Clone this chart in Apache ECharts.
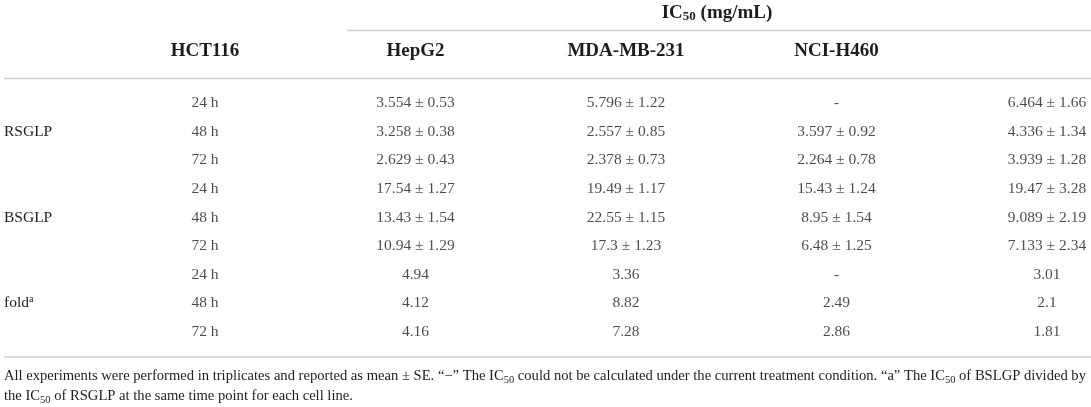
<!DOCTYPE html>
<html>
<head>
<meta charset="utf-8">
<script src="https://cdn.jsdelivr.net/npm/echarts@6/dist/echarts.min.js"></script>
<style>
  html, body { margin: 0; padding: 0; background: #fff; }
  #container { width: 1091px; height: 407px; }
</style>
</head>
<body>
<div id="container"></div>
<script>
// table content
var colHeaders = ['HCT116', 'HepG2', 'MDA-MB-231', 'NCI-H460', ''];
var groups = ['RSGLP', 'BSGLP', 'fold'];
var times = ['24 h', '48 h', '72 h'];

var hepg2Mean = [3.554, 3.258, 2.629, 17.54, 13.43, 10.94, 4.94, 4.12, 4.16];
var hepg2SE   = [0.53, 0.38, 0.43, 1.27, 1.54, 1.29, null, null, null];
var mdaMean   = [5.796, 2.557, 2.378, 19.49, 22.55, 17.3, 3.36, 8.82, 7.28];
var mdaSE     = [1.22, 0.85, 0.73, 1.17, 1.15, 1.23, null, null, null];
var nciMean   = [null, 3.597, 2.264, 15.43, 8.95, 6.48, null, 2.49, 2.86];
var nciSE     = [null, 0.92, 0.78, 1.24, 1.54, 1.25, null, null, null];
var lastMean  = [6.464, 4.336, 3.939, 19.47, 9.089, 7.133, 3.01, 2.1, 1.81];
var lastSE    = [1.66, 1.34, 1.28, 3.28, 2.19, 2.34, null, null, null];

var footLine1 = 'All experiments were performed in triplicates and reported as mean \u00b1 SE. \u201c\u2212\u201d The IC';
var footLine1b = ' could not be calculated under the current treatment condition. \u201ca\u201d The IC';
var footLine1c = ' of BSLGP divided by';
var footLine2a = 'the IC';
var footLine2b = ' of RSGLP at the same time point for each cell line.';

var textColor = '#1f1c1d';
var ruleColor = '#cfcfcf';
var serif = '"Liberation Serif", "DejaVu Serif", serif';

var rowKeys = [];
for (var g = 0; g < groups.length; g++) {
    for (var t = 0; t < times.length; t++) {
        rowKeys.push(groups[g] + ' ' + times[t]);
    }
}

function cellText(mean, se) {
    if (mean === null) return '-';
    if (se === null) return String(mean);
    return mean + ' \u00b1 ' + se;
}

var columns = [
    null,
    [hepg2Mean, hepg2SE],
    [mdaMean, mdaSE],
    [nciMean, nciSE],
    [lastMean, lastSE]
];

var cells = [];
for (var r = 0; r < rowKeys.length; r++) {
    cells.push({ value: [0, r], name: times[r % 3] });
    for (var c = 1; c < columns.length; c++) {
        cells.push({ value: [c, r], name: cellText(columns[c][0][r], columns[c][1][r]) });
    }
}

var dom = document.getElementById('container');
var myChart = echarts.init(dom);
var option = {
    animation: false,
    backgroundColor: '#fff',
    textStyle: { fontFamily: serif, color: textColor },
    grid: { left: 205, right: 44, top: 103, bottom: 75 },
    xAxis: {
        type: 'category',
        position: 'top',
        data: colHeaders,
        boundaryGap: false,
        axisLine: { show: false },
        axisTick: { show: false },
        splitLine: { show: false },
        axisLabel: {
            interval: 0,
            margin: 52,
            verticalAlign: 'middle',
            fontFamily: serif,
            fontSize: 19,
            fontWeight: 'bold',
            color: textColor
        }
    },
    yAxis: {
        type: 'category',
        inverse: true,
        data: rowKeys,
        boundaryGap: false,
        axisLine: { show: false },
        axisTick: { show: false },
        splitLine: { show: false },
        axisLabel: {
            interval: 0,
            margin: 201,
            align: 'left',
            fontFamily: serif,
            fontSize: 15.5,
            color: textColor,
            formatter: function (value, index) {
                if (index % 3 !== 1) return '';
                var name = groups[Math.floor(index / 3)];
                return name === 'fold' ? '{n|fold}{sup|a}' : '{n|' + name + '}';
            },
            rich: {
                n: { fontFamily: serif, fontSize: 15.5, color: textColor },
                sup: { fontFamily: serif, fontSize: 10, color: textColor, verticalAlign: 'top', padding: [0, 0, 8, 0] }
            }
        }
    },
    series: [
        {
            type: 'scatter',
            symbolSize: 0,
            silent: true,
            data: cells,
            label: {
                show: true,
                position: 'inside',
                formatter: '{b}',
                fontFamily: serif,
                fontSize: 15.5,
                color: textColor
            }
        }
    ],
    graphic: [
        // rules
        { type: 'line', shape: { x1: 347, y1: 30.5, x2: 1091, y2: 30.5 }, style: { stroke: ruleColor, lineWidth: 1.5 } },
        { type: 'line', shape: { x1: 4, y1: 78.5, x2: 1091, y2: 78.5 }, style: { stroke: ruleColor, lineWidth: 1.5 } },
        { type: 'line', shape: { x1: 4, y1: 357, x2: 1091, y2: 357 }, style: { stroke: ruleColor, lineWidth: 1.5 } },
        {
            type: 'text',
            x: 717, y: 13,
            style: {
                text: '{b|IC}{s|50}{b| (mg/mL)}',
                align: 'center',
                verticalAlign: 'middle',
                rich: {
                    b: { fontFamily: serif, fontSize: 19, fontWeight: 'bold', fill: textColor },
                    s: { fontFamily: serif, fontSize: 13, fontWeight: 'bold', fill: textColor, verticalAlign: 'bottom', padding: [8, 0, 0, 0] }
                }
            }
        },
        {
            type: 'text',
            x: 4, y: 366,
            style: {
                text: '{t|' + footLine1 + '}{s|50}{t|' + footLine1b + '}{s|50}{t|' + footLine1c + '}\n' +
                      '{t|' + footLine2a + '}{s|50}{t|' + footLine2b + '}',
                align: 'left',
                verticalAlign: 'top',
                rich: {
                    t: { fontFamily: serif, fontSize: 14.6, lineHeight: 20, fill: textColor },
                    s: { fontFamily: serif, fontSize: 10.5, lineHeight: 20, fill: textColor, verticalAlign: 'bottom', padding: [6, 0, 0, 0] }
                }
            }
        }
    ]
};

if (option && typeof option === 'object') {
    myChart.setOption(option);
}
</script>
</body>
</html>
